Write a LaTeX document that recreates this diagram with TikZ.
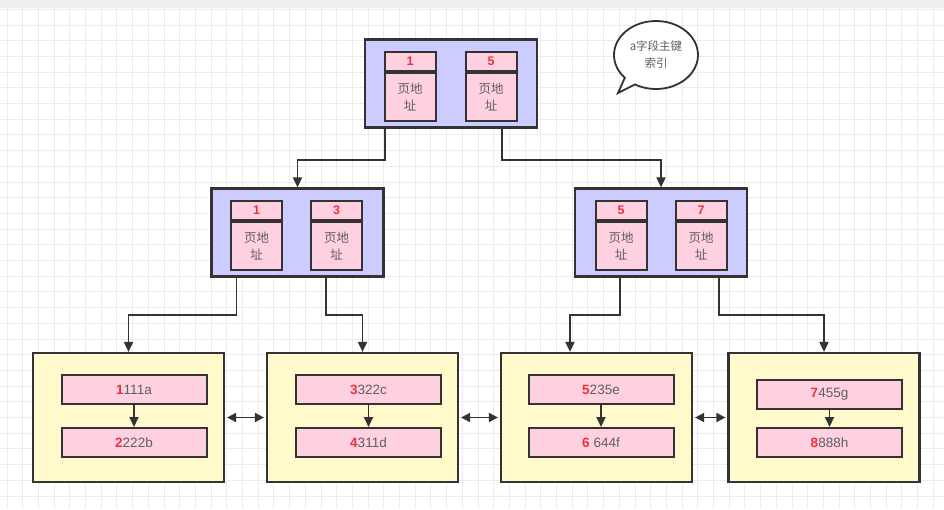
\documentclass[tikz,border=0pt]{standalone}
\usepackage{fontspec}
\setmainfont{Liberation Sans}
\newfontfamily\cjk{Noto Sans CJK SC}
\usetikzlibrary{arrows.meta}
\usetikzlibrary{shapes.callouts}

\definecolor{edge}{HTML}{333333}
\definecolor{lav}{HTML}{CCCCFF}
\definecolor{pinkbox}{HTML}{FFD1E0}
\definecolor{leafbg}{HTML}{FFF9CC}
\definecolor{keyred}{HTML}{E8323C}
\definecolor{txtgray}{HTML}{5F5F5F}
\definecolor{gridc}{HTML}{EBEBF0}
\definecolor{topbar}{HTML}{EFEFEF}

\tikzset{
  idxbox/.style={draw=edge, fill=lav, line width=2.2pt, minimum width=172pt, minimum height=88pt, inner sep=0pt},
  keyhead/.style={draw=edge, fill=pinkbox, line width=2pt, minimum width=51pt, minimum height=19pt, inner sep=0pt, text=keyred, font=\fontsize{12.5}{13}\selectfont\bfseries},
  keybody/.style={draw=edge, fill=pinkbox, line width=2pt, minimum width=51pt, minimum height=48pt, inner sep=0pt, text=txtgray, align=center, font=\cjk\fontsize{12.5}{17}\selectfont},
  leafbox/.style={draw=edge, fill=leafbg, line width=2.2pt, minimum width=191pt, minimum height=129pt, inner sep=0pt},
  recbox/.style={draw=edge, fill=pinkbox, line width=2pt, minimum width=145pt, minimum height=29pt, inner sep=0pt, text=txtgray, font=\fontsize{13.5}{15}\selectfont},
  link/.style={draw=edge, line width=1.8pt, -{Triangle[length=10pt,width=9pt]}},
  twoway/.style={draw=edge, line width=1.8pt, shorten <=2pt, shorten >=2pt, {Triangle[length=9pt,width=9pt]}-{Triangle[length=9pt,width=9pt]}},
  bubble/.style={ellipse callout, draw=edge, fill=white, line width=1.8pt, minimum width=84pt, minimum height=68pt, inner sep=1pt, callout pointer arc=18, align=center, text=txtgray, font=\cjk\fontsize{11.5}{17}\selectfont},
}
\newcommand\rk[1]{\textcolor{keyred}{\bfseries #1}}

\begin{document}
\begin{tikzpicture}[x=1pt,y=-1pt]

\useasboundingbox (0,0) rectangle (944,509);
\fill[white] (0,0) rectangle (944,509);
\foreach \i in {0,...,59} \draw[gridc, line width=1pt] ({7+15.7*\i},8) -- ({7+15.7*\i},509);
\foreach \j in {0,...,31} \draw[gridc, line width=1pt] (0,{9.3+15.7*\j}) -- (944,{9.3+15.7*\j});
\fill[topbar] (0,0) rectangle (944,8);

% root page
\node[idxbox] (root) at (451,83.5) {};
\node[keyhead] (rh1) at (410,61.5) {1};
\node[keybody, anchor=north] (rb1) at (rh1.south) {页地\\址};
\node[keyhead] (rh2) at (491,61.5) {5};
\node[keybody, anchor=north] (rb2) at (rh2.south) {页地\\址};

\node[bubble, callout absolute pointer={(618,93)}] (note) at (656,55) {a字段主键\\索引};

% second level
\node[idxbox] (midl) at (297.5,232.5) {};
\node[keyhead] (lh1) at (256.5,210.5) {1};
\node[keybody, anchor=north] (lb1) at (lh1.south) {页地\\址};
\node[keyhead] (lh2) at (336.5,210.5) {3};
\node[keybody, anchor=north] (lb2) at (lh2.south) {页地\\址};

\node[idxbox] (midr) at (661,232.5) {};
\node[keyhead] (mh1) at (621,210.5) {5};
\node[keybody, anchor=north] (mb1) at (mh1.south) {页地\\址};
\node[keyhead] (mh2) at (701,210.5) {7};
\node[keybody, anchor=north] (mb2) at (mh2.south) {页地\\址};

% leaf pages
\node[leafbox] (leafa) at (128.5,417.5) {};
\node[recbox] (ra1) at (134,389.5) {\rk{1}111a};
\node[recbox] (ra2) at (134,442.5) {\rk{2}222b};
\node[leafbox] (leafb) at (362.5,417.5) {};
\node[recbox] (rb1x) at (368.5,389.5) {\rk{3}322c};
\node[recbox] (rb2x) at (368.5,442.5) {\rk{4}311d};
\node[leafbox] (leafc) at (596.5,417.5) {};
\node[recbox] (rc1) at (601,389.5) {\rk{5}235e};
\node[recbox] (rc2) at (601,442.5) {\rk{6} 644f};
\node[leafbox] (leafd) at (824,417.5) {};
\node[recbox] (rd1) at (829.5,394) {\rk{7}455g};
\node[recbox] (rd2) at (829.5,442.5) {\rk{8}888h};

\draw[link] (ra1) -- (ra2);
\draw[link] (rb1x) -- (rb2x);
\draw[link] (rc1) -- (rc2);
\draw[link] (rd1) -- (rd2);

% tree links
\draw[link] ([xshift=21pt]root.south west) -- ++(0,31) -| (midl.north);
\draw[link] ([xshift=-36pt]root.south east) -- ++(0,31) -| (midr.north);
\draw[link] ([xshift=26pt]midl.south west) -- ++(0,37) -| (leafa.north);
\draw[link] ([xshift=-59pt]midl.south east) -- ++(0,37) -| (leafb.north);
\draw[link] ([xshift=46pt]midr.south west) -- ++(0,37) -| ([xshift=-26.5pt]leafc.north);
\draw[link] ([xshift=-29pt]midr.south east) -- ++(0,37) -| (leafd.north);

\draw[twoway] (leafa) -- (leafb);
\draw[twoway] (leafb) -- (leafc);
\draw[twoway] (leafc) -- (leafd);

\end{tikzpicture}
\end{document}
